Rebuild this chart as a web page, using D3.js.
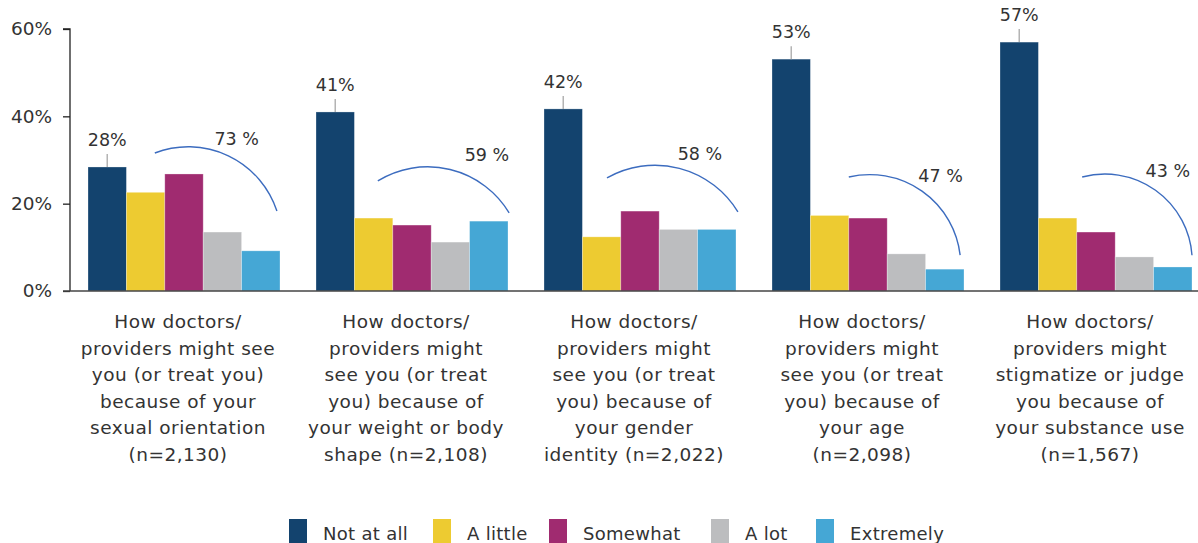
<!DOCTYPE html>
<html>
<head>
<meta charset="utf-8">
<script src="https://cdn.jsdelivr.net/npm/d3@7/dist/d3.min.js"></script>
<style>
  html, body { margin: 0; padding: 0; background: #ffffff; }
  svg { display: block; }
  text { font-family: "DejaVu Sans", sans-serif; fill: #333333; }
</style>
</head>
<body>
<svg id="chart" width="1198" height="543"></svg>
<script>
// ---- data ----
const categories = ["orientation", "weight", "gender", "age", "substance"];
const categoryLines = [
  ["How doctors/", "providers might see", "you (or treat you)", "because of your", "sexual orientation", "(n=2,130)"],
  ["How doctors/", "providers might", "see you (or treat", "you) because of", "your weight or body", "shape (n=2,108)"],
  ["How doctors/", "providers might", "see you (or treat", "you) because of", "your gender", "identity (n=2,022)"],
  ["How doctors/", "providers might", "see you (or treat", "you) because of", "your age", "(n=2,098)"],
  ["How doctors/", "providers might", "stigmatize or judge", "you because of", "your substance use", "(n=1,567)"]
];
const seriesNames = ["Not at all", "A little", "Somewhat", "A lot", "Extremely"];
const notAtAll  = [28.4, 41.0, 41.7, 53.1, 57.0];
const aLittle   = [22.6, 16.7, 12.4, 17.3, 16.7];
const somewhat  = [26.8, 15.1, 18.3, 16.7, 13.5];
const aLot      = [13.5, 11.2, 14.1, 8.5, 7.8];
const extremely = [9.2, 16.0, 14.1, 5.0, 5.5];
const notAtAllLabels = ["28%", "41%", "42%", "53%", "57%"];
const totalLabels = ["73 %", "59 %", "58 %", "47 %", "43 %"];
const yTicks = [0, 20, 40, 60];
const colors = ["#13436e", "#edcb31", "#a02b70", "#bcbdbf", "#45a7d5"];

// annotation anchors: x in bar-steps within a group, y in % units
const arcStartX = [1.74, 1.61, 1.64, 2.0, 2.14];
const arcStartY = [31.6, 25.2, 25.9, 26.1, 26.1];
const arcMidX   = [2.73, 3.05, 2.94, 2.37, 2.42];
const arcMidY   = [33.0, 28.4, 28.8, 26.6, 26.6];
const arcEndX   = [4.92, 5.03, 5.05, 4.9, 5.0];
const arcEndY   = [18.3, 17.9, 18.1, 8.2, 8.2];
const totalX    = [4.45, 5.03, 4.64, 4.97, 4.95];
const totalY    = [33.4, 29.8, 30.0, 25.0, 26.1];

const seriesValues = [notAtAll, aLittle, somewhat, aLot, extremely];

// ---- layout ----
const svg = d3.select("#chart");
const plotLeft = 70, plotBottom = 291, plotTop = 29;

const x0 = d3.scaleBand().domain(categories).range([plotLeft, plotLeft + 228 * 5]).padding(0);
const x1 = d3.scaleBand().domain(seriesNames).range([0, x0.bandwidth()]).paddingInner(0).paddingOuter(0.469);
const y = d3.scaleLinear().domain([0, 60]).range([plotBottom, plotTop]);
const step = x1.step();
const barStart = x1(seriesNames[0]);

// bars
categories.forEach((c, i) => {
  const g = svg.append("g").attr("transform", `translate(${x0(c)},0)`);
  g.selectAll("rect")
    .data(seriesNames.map((s, j) => ({ s, j, v: seriesValues[j][i] })))
    .join("rect")
    .attr("x", d => x1(d.s))
    .attr("y", d => y(d.v))
    .attr("width", x1.bandwidth())
    .attr("height", d => y(0) - y(d.v))
    .attr("fill", d => colors[d.j])
    .attr("stroke", "#ffffff")
    .attr("stroke-opacity", 0.35)
    .attr("stroke-width", 0.8);

  // value label for "Not at all"
  const cx = x1(seriesNames[0]) + x1.bandwidth() / 2;
  const topY = y(notAtAll[i]);
  g.append("line")
    .attr("x1", cx).attr("x2", cx)
    .attr("y1", topY).attr("y2", topY - 13)
    .attr("stroke", "#a8a8a8").attr("stroke-width", 1.3);
  g.append("text")
    .attr("x", cx).attr("y", topY - 21)
    .attr("text-anchor", "middle")
    .attr("font-size", 17.5)
    .text(notAtAllLabels[i]);

  // arc through three points
  const px = v => barStart + v * step;
  const P1 = [px(arcStartX[i]), y(arcStartY[i])];
  const P2 = [px(arcMidX[i]), y(arcMidY[i])];
  const P3 = [px(arcEndX[i]), y(arcEndY[i])];
  const ax = P1[0], ay = P1[1], bx = P2[0], by = P2[1], qx = P3[0], qy = P3[1];
  const dd = 2 * (ax * (by - qy) + bx * (qy - ay) + qx * (ay - by));
  const ux = ((ax*ax + ay*ay) * (by - qy) + (bx*bx + by*by) * (qy - ay) + (qx*qx + qy*qy) * (ay - by)) / dd;
  const uy = ((ax*ax + ay*ay) * (qx - bx) + (bx*bx + by*by) * (ax - qx) + (qx*qx + qy*qy) * (bx - ax)) / dd;
  const r = Math.hypot(ax - ux, ay - uy);
  g.append("path")
    .attr("d", `M${P1[0]},${P1[1]} A${r},${r} 0 0 1 ${P3[0]},${P3[1]}`)
    .attr("fill", "none")
    .attr("stroke", "#3c6cbf")
    .attr("stroke-width", 1.4);

  g.append("text")
    .attr("x", px(totalX[i])).attr("y", y(totalY[i]))
    .attr("text-anchor", "end")
    .attr("font-size", 17.5)
    .text(totalLabels[i]);

  // category label
  const t = g.append("text")
    .attr("text-anchor", "middle")
    .attr("font-size", 18.5)
    .attr("letter-spacing", 0.5);
  categoryLines[i].forEach((ln, k) => {
    t.append("tspan")
      .attr("x", x0.bandwidth() / 2 - 6)
      .attr("y", 328 + k * 26.5)
      .text(ln);
  });
});

// y axis
const yAxis = d3.axisLeft(y).tickValues(yTicks).tickFormat(d => d + "%").tickSize(7).tickPadding(11);
const ya = svg.append("g").attr("transform", `translate(${plotLeft},0)`).call(yAxis);
ya.select(".domain").attr("stroke", "#222").attr("stroke-width", 1.3).attr("d", `M-7,${plotTop}H0V${plotBottom}`);
ya.selectAll(".tick line").attr("stroke", "#222").attr("stroke-width", 1.3);
ya.selectAll(".tick text").attr("font-size", 18.5).attr("font-family", "DejaVu Sans, sans-serif").attr("fill", "#333");

// x axis baseline
svg.append("line")
  .attr("x1", plotLeft - 7).attr("x2", 1198)
  .attr("y1", y(0)).attr("y2", y(0))
  .attr("stroke", "#444").attr("stroke-width", 1.5);

// legend
const legendX = [289, 433, 549, 711, 816];
const lg = svg.append("g");
seriesNames.forEach((s, j) => {
  lg.append("rect")
    .attr("x", legendX[j]).attr("y", 519)
    .attr("width", 18).attr("height", 24)
    .attr("fill", colors[j]);
  lg.append("text")
    .attr("x", legendX[j] + 34).attr("y", 540)
    .attr("font-size", 18)
    .attr("letter-spacing", 0.3)
    .text(s);
});
</script>
</body>
</html>
